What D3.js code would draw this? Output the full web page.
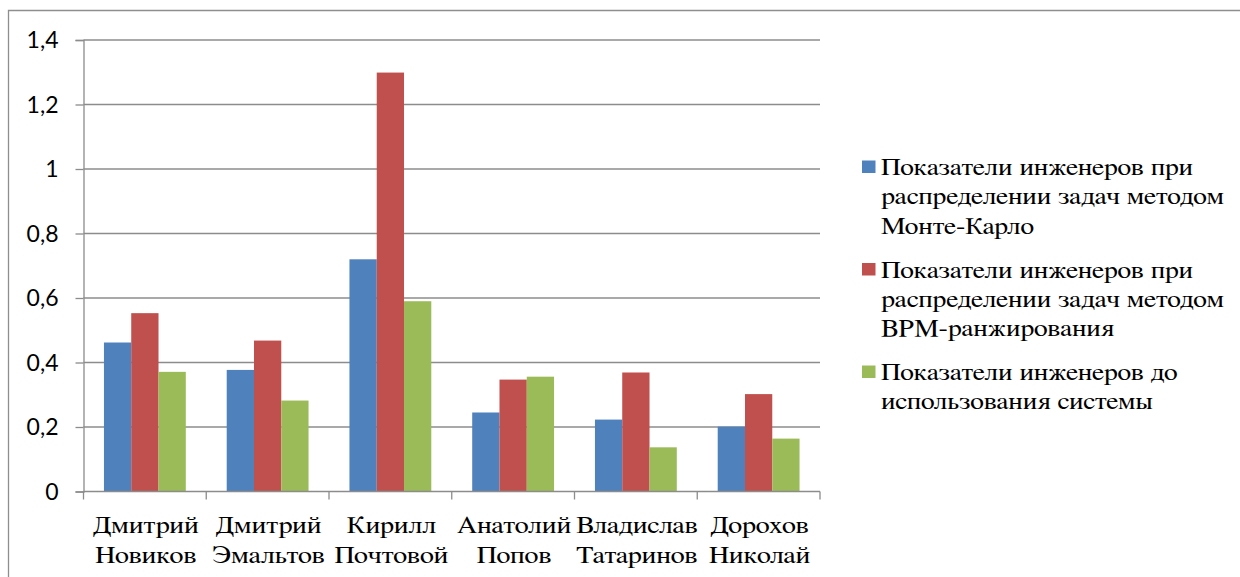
<!DOCTYPE html>
<html><head><meta charset="utf-8">
<script src="https://cdn.jsdelivr.net/npm/d3@7"></script>
<style>
html,body{margin:0;padding:0;background:#fff;}
svg{display:block;}
</style>
</head><body>
<svg id="chart" width="1240" height="577"></svg>
<script>
const categories = [
  ["Дмитрий","Новиков"],
  ["Дмитрий","Эмальтов"],
  ["Кирилл","Почтовой"],
  ["Анатолий","Попов"],
  ["Владислав","Татаринов"],
  ["Дорохов","Николай"]
];
const seriesNames = [
  ["Показатели инженеров при","распределении задач методом","Монте-Карло"],
  ["Показатели инженеров при","распределении задач методом","BPM-ранжирования"],
  ["Показатели инженеров до","использования системы"]
];
const monteCarlo = [0.462, 0.377, 0.720, 0.245, 0.223, 0.201];
const bpm        = [0.553, 0.468, 1.299, 0.347, 0.369, 0.302];
const before     = [0.371, 0.282, 0.590, 0.356, 0.137, 0.164];
const yTicks = [0, 0.2, 0.4, 0.6, 0.8, 1, 1.2, 1.4];
const colors = ["#4F81BD", "#C0504D", "#9BBB59"];

const seriesValues = [monteCarlo, bpm, before];
const svg = d3.select("#chart");
const gridColor = "#8C8C8C";
const serif = "FreeSerif, 'Liberation Serif', 'Times New Roman', serif";
const stretch = 1.15;

// outer frame
svg.append("path")
  .attr("d", "M8.5,600 L8.5,10.5 L1260,10.5")
  .attr("fill", "none").attr("stroke", "#8E8E8E").attr("stroke-width", 1.3);

const pLeft = 83.5, pRight = 820, pTop = 40, pBottom = 491.5;
const catKeys = categories.map((c, i) => i);
const x = d3.scaleBand().domain(catKeys).range([pLeft, pRight]).paddingInner(0).paddingOuter(0);
const xs = d3.scaleBand().domain([0,1,2]).range([0, x.bandwidth()]).paddingInner(0).paddingOuter(0.75);
const y = d3.scaleLinear().domain([0, 1.4]).range([pBottom, pTop]);

// gridlines
svg.append("g").selectAll("line").data(yTicks.filter(d => d > 0)).join("line")
  .attr("x1", pLeft).attr("x2", pRight)
  .attr("y1", d => y(d)).attr("y2", d => y(d))
  .attr("stroke", gridColor).attr("stroke-width", 1.3);

// y axis
const yAxis = svg.append("g").attr("transform", `translate(${pLeft},0)`)
  .call(d3.axisLeft(y).tickValues(yTicks).tickSize(8).tickPadding(17)
    .tickFormat(d => String(d).replace(".", ",")));
yAxis.select(".domain").attr("stroke", gridColor).attr("stroke-width", 1.3);
yAxis.selectAll(".tick line").attr("stroke", gridColor).attr("stroke-width", 1.3);
yAxis.selectAll(".tick text")
  .style("font-family", "Lato, 'Open Sans', sans-serif")
  .style("font-size", "23px").attr("fill", "#000").attr("dy", "0.34em");

// bars
seriesValues.forEach((vals, s) => {
  svg.append("g").selectAll("rect").data(vals).join("rect")
    .attr("x", (d, i) => x(i) + xs(s))
    .attr("width", xs.bandwidth())
    .attr("y", d => y(d))
    .attr("height", d => y(0) - y(d))
    .attr("fill", colors[s]);
});

// x axis line and ticks
svg.append("line").attr("x1", pLeft).attr("x2", pRight)
  .attr("y1", y(0)).attr("y2", y(0))
  .attr("stroke", gridColor).attr("stroke-width", 1.3);
const boundaries = catKeys.map(i => x(i)).concat([pRight]);
svg.append("g").selectAll("line").data(boundaries).join("line")
  .attr("x1", d => d).attr("x2", d => d)
  .attr("y1", y(0)).attr("y2", y(0) + 8)
  .attr("stroke", gridColor).attr("stroke-width", 1.3);

// category labels
const catG = svg.append("g").style("font-family", serif)
  .style("font-size", "24.5px").attr("fill", "#000").attr("text-anchor", "middle");
categories.forEach((lines, i) => {
  const cx = x(i) + x.bandwidth() / 2 + 1;
  const t = catG.append("text").attr("transform", `translate(${cx},533) scale(${stretch},1)`);
  lines.forEach((ln, k) => {
    t.append("tspan").attr("x", 0).attr("y", k * 30).text(ln);
  });
});

// legend
const legG = svg.append("g").style("font-family", serif)
  .style("font-size", "24px").attr("fill", "#000");
const legStarts = [175, 277.5, 380];
seriesNames.forEach((lines, s) => {
  const base = legStarts[s];
  legG.append("rect").attr("x", 862).attr("y", base - 14.5).attr("width", 13.5).attr("height", 12.5)
    .attr("fill", colors[s]);
  const t = legG.append("text").attr("transform", `translate(881,${base}) scale(${stretch},1)`);
  lines.forEach((ln, k) => {
    t.append("tspan").attr("x", 0).attr("y", k * 29.5).text(ln);
  });
});
</script>
</body></html>
